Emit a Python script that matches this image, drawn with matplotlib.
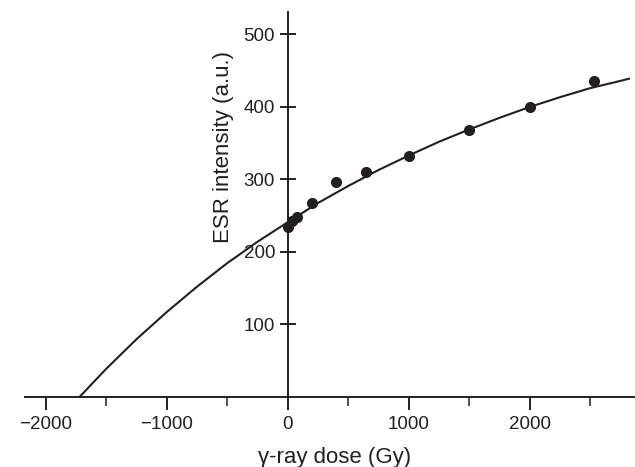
import matplotlib.pyplot as plt
from matplotlib.ticker import MultipleLocator

# measured points (dose in Gy, ESR intensity in a.u.)
dose = [0, 40, 80, 200, 400, 650, 1000, 1500, 2000, 2530]
esr = [235, 243, 248, 267, 297, 310, 333, 368, 400, 436]

# fitted curve
fit_dose = [-1720, -1500, -1250, -1000, -750, -500, -250, 0, 250, 500, 750,
            1000, 1250, 1500, 1750, 2000, 2250, 2500, 2750, 2820]
fit_esr = [0, 38.7, 79.5, 117, 152, 184.5, 214, 241, 267.5, 291, 313,
           333, 352, 369, 385, 400, 413.5, 426, 436, 439]

x_major = [-2000, -1000, 0, 1000, 2000]
y_major = [100, 200, 300, 400, 500]

ink = '#231f20'
plt.rcParams['font.family'] = ['Liberation Sans', 'DejaVu Sans']

fig = plt.figure(figsize=(6.35, 4.67), dpi=100)
ax = fig.add_axes([25 / 635, 70 / 467, 610 / 635, 385 / 467])

ax.plot(fit_dose, fit_esr, color=ink, linewidth=1.5, zorder=2)
ax.plot(dose, esr, 'o', color=ink, markersize=7, zorder=3)

ax.set_xlim(-2170, 2870)
ax.set_ylim(0, 531)

ax.spines['top'].set_visible(False)
ax.spines['right'].set_visible(False)
ax.spines['left'].set_position(('data', 0))
ax.spines['bottom'].set_position(('data', 0))
for side in ['left', 'bottom']:
    ax.spines[side].set_color(ink)
    ax.spines[side].set_linewidth(1.4)

ax.set_xticks(x_major)
ax.xaxis.set_minor_locator(MultipleLocator(500))
ax.set_yticks(y_major)
ax.tick_params(axis='x', which='major', direction='out', length=9, width=1.4,
               color=ink, labelcolor=ink, labelsize=13.5, pad=5)
ax.tick_params(axis='x', which='minor', direction='out', length=6.5, width=1.1, color=ink)
ax.tick_params(axis='y', which='major', direction='inout', length=12, width=1.4,
               color=ink, labelcolor=ink, labelsize=13.5, pad=3)

fig.text(335 / 635, 1 - 463 / 467, 'γ-ray dose (Gy)', ha='center', va='baseline',
         fontsize=16, color=ink)
fig.text(223 / 635, 1 - 147 / 467, 'ESR intensity (a.u.)', ha='center', va='center',
         rotation=90, fontsize=16, color=ink)

fig.savefig('out.png', dpi=100)
